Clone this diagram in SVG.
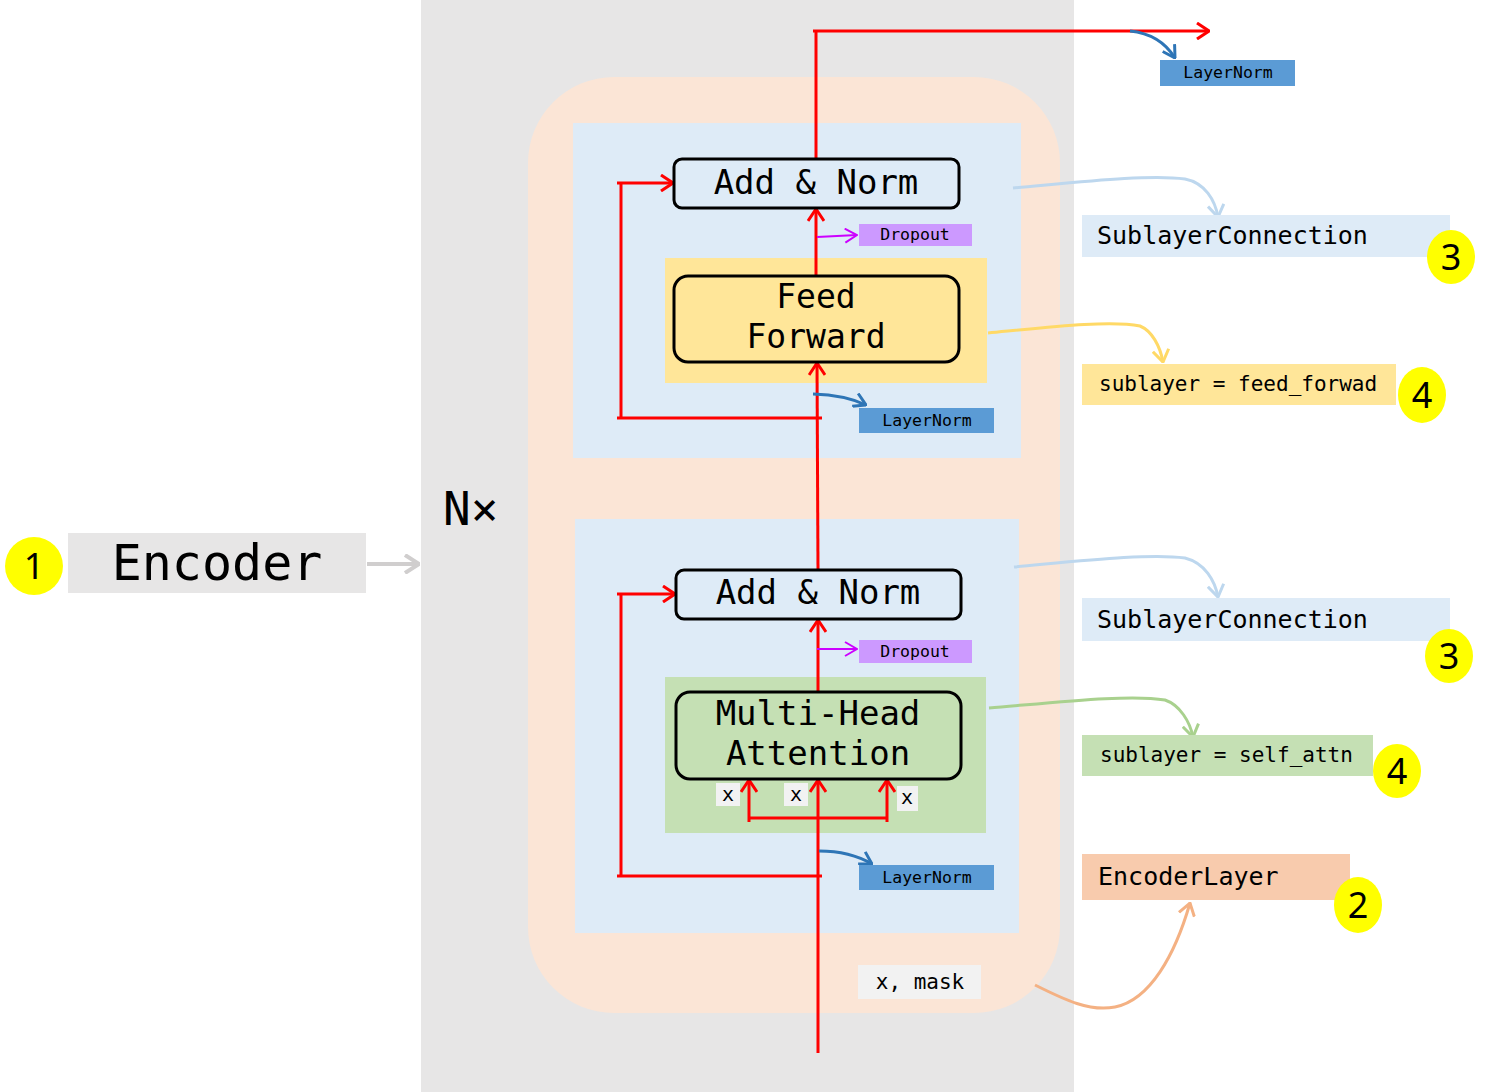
<svg xmlns="http://www.w3.org/2000/svg" width="1486" height="1092" viewBox="0 0 1486 1092">
<defs>
<style>
.mono{font-family:"DejaVu Sans Mono","Liberation Mono",monospace;fill:#000}
.num{font-family:"Noto Sans","DejaVu Sans",sans-serif;fill:#000;font-size:36px;text-anchor:middle}
.box{stroke:#000;stroke-width:3}
.red{stroke:#ff0000;stroke-width:3;fill:none}
.badge{fill:#ffff00}
</style>
<marker id="aRed" viewBox="0 0 14 18" refX="13" refY="9" markerWidth="14" markerHeight="18" markerUnits="userSpaceOnUse" orient="auto"><path d="M1,1 L13,9 L1,17" fill="none" stroke="#ff0000" stroke-width="3"/></marker>
<marker id="aMag" viewBox="0 0 14 16" refX="13" refY="8" markerWidth="14" markerHeight="16" markerUnits="userSpaceOnUse" orient="auto"><path d="M1,1 L13,8 L1,15" fill="none" stroke="#cc00ff" stroke-width="2"/></marker>
<marker id="aBlue" viewBox="0 0 14 16" refX="13" refY="8" markerWidth="14" markerHeight="16" markerUnits="userSpaceOnUse" orient="auto"><path d="M1,1 L13,8 L1,15" fill="none" stroke="#2e75b6" stroke-width="3"/></marker>
<marker id="aLBlue" viewBox="0 0 14 18" refX="13" refY="9" markerWidth="14" markerHeight="18" markerUnits="userSpaceOnUse" orient="auto"><path d="M1,1 L13,9 L1,17" fill="none" stroke="#bdd7ee" stroke-width="3"/></marker>
<marker id="aYel" viewBox="0 0 14 18" refX="13" refY="9" markerWidth="14" markerHeight="18" markerUnits="userSpaceOnUse" orient="auto"><path d="M1,1 L13,9 L1,17" fill="none" stroke="#ffd966" stroke-width="3"/></marker>
<marker id="aGrn" viewBox="0 0 14 18" refX="13" refY="9" markerWidth="14" markerHeight="18" markerUnits="userSpaceOnUse" orient="auto"><path d="M1,1 L13,9 L1,17" fill="none" stroke="#a9d18e" stroke-width="3"/></marker>
<marker id="aOr" viewBox="0 0 14 18" refX="13" refY="9" markerWidth="14" markerHeight="18" markerUnits="userSpaceOnUse" orient="auto"><path d="M1,1 L13,9 L1,17" fill="none" stroke="#f4b183" stroke-width="3"/></marker>
<marker id="aGray" viewBox="0 0 16 20" refX="15" refY="10" markerWidth="16" markerHeight="20" markerUnits="userSpaceOnUse" orient="auto"><path d="M1,1 L15,10 L1,19" fill="none" stroke="#d0cece" stroke-width="4"/></marker>
</defs>
<rect width="1486" height="1092" fill="#ffffff"/>

<g id="background">
<rect x="421" y="0" width="653" height="1092" fill="#e7e6e6"/>
<rect x="528" y="77" width="532" height="936" rx="86" fill="#fbe5d6"/>
<rect x="573" y="123" width="448" height="335" fill="#deebf7"/>
<rect x="575" y="519" width="444" height="414" fill="#deebf7"/>
<rect x="665" y="258" width="322" height="125" fill="#ffe699"/>
<rect x="665" y="677" width="321" height="156" fill="#c5e0b4"/>
<text class="mono" x="443" y="525" font-size="46">N×</text>
</g>

<g id="encoder">
<circle class="badge" cx="34" cy="566" r="29"/>
<text class="num" x="34" y="579">1</text>
<rect x="68" y="533" width="298" height="60" fill="#e7e6e6"/>
<text class="mono" x="217" y="580" font-size="50" text-anchor="middle">Encoder</text>
</g>

<g id="connectors">
<!-- top output -->
<path class="red" d="M816,159 L816,31"/>
<path class="red" d="M813,31 L1209,31" marker-end="url(#aRed)"/>
<path class="red" d="M816,276 L816,209" marker-end="url(#aRed)"/>
<path class="red" d="M818,570 L817,363" marker-end="url(#aRed)"/>
<path class="red" d="M617,418 L822,418"/>
<path class="red" d="M621,418 L621,183"/>
<path class="red" d="M617,183 L673,183" marker-end="url(#aRed)"/>
<!-- lower -->
<path class="red" d="M818,1053 L818,780" marker-end="url(#aRed)"/>
<path class="red" d="M818,692 L818,620" marker-end="url(#aRed)"/>
<path class="red" d="M617,876 L822,876"/>
<path class="red" d="M621,876 L621,594"/>
<path class="red" d="M617,594 L675,594" marker-end="url(#aRed)"/>
<path class="red" d="M749,818 L887,818"/>
<path class="red" d="M749,822 L749,780" marker-end="url(#aRed)"/>
<path class="red" d="M887,822 L887,780" marker-end="url(#aRed)"/>
<!-- dropout -->
<path d="M817,237 L857,235" fill="none" stroke="#cc00ff" stroke-width="2" marker-end="url(#aMag)"/>
<path d="M817,649 L857,649" fill="none" stroke="#cc00ff" stroke-width="2" marker-end="url(#aMag)"/>
<!-- layernorm -->
<path d="M1130,31 Q1160,34 1175,58" fill="none" stroke="#2e75b6" stroke-width="3" marker-end="url(#aBlue)"/>
<path d="M813,394 Q845,395 866,405" fill="none" stroke="#2e75b6" stroke-width="3" marker-end="url(#aBlue)"/>
<path d="M819,851 Q850,851 872,864" fill="none" stroke="#2e75b6" stroke-width="3" marker-end="url(#aBlue)"/>
<!-- annotation curves -->
<path d="M1013,188 C1080,182 1150,174 1185,179 C1205,183 1215,200 1218,217" fill="none" stroke="#bdd7ee" stroke-width="3" marker-end="url(#aLBlue)"/>
<path d="M988,333 C1050,327 1110,320 1140,326 C1152,331 1160,346 1163,362" fill="none" stroke="#ffd966" stroke-width="3" marker-end="url(#aYel)"/>
<path d="M1014,567 C1080,561 1150,553 1185,558 C1205,563 1215,581 1218,597" fill="none" stroke="#bdd7ee" stroke-width="3" marker-end="url(#aLBlue)"/>
<path d="M989,708 C1060,702 1130,694 1165,700 C1180,705 1190,722 1193,737" fill="none" stroke="#a9d18e" stroke-width="3" marker-end="url(#aGrn)"/>
<path d="M1035,985 C1065,1000 1090,1012 1115,1007 C1150,1000 1175,955 1190,903" fill="none" stroke="#f4b183" stroke-width="3" marker-end="url(#aOr)"/>
<path d="M367,564 L419,564" fill="none" stroke="#d0cece" stroke-width="4" marker-end="url(#aGray)"/>
</g>

<g id="addnorm-top">
<rect class="box" x="674" y="159" width="285" height="49" rx="8" fill="#deebf7"/>
<text class="mono" x="816" y="194" font-size="34" text-anchor="middle">Add &amp; Norm</text>
</g>
<g id="feedforward">
<rect class="box" x="674" y="276" width="285" height="86" rx="14" fill="#ffe699"/>
<text class="mono" x="816" y="308" font-size="33" text-anchor="middle">Feed</text>
<text class="mono" x="816" y="348" font-size="33" text-anchor="middle">Forward</text>
</g>
<g id="addnorm-bottom">
<rect class="box" x="676" y="570" width="285" height="49" rx="8" fill="#deebf7"/>
<text class="mono" x="818" y="604" font-size="34" text-anchor="middle">Add &amp; Norm</text>
</g>
<g id="mha">
<rect class="box" x="676" y="692" width="285" height="87" rx="14" fill="#c5e0b4"/>
<text class="mono" x="818" y="725" font-size="34" text-anchor="middle">Multi-Head</text>
<text class="mono" x="818" y="765" font-size="34" text-anchor="middle">Attention</text>
</g>
<g id="x-labels">
<rect x="716" y="783" width="24" height="23" fill="#f2f2f2"/>
<text class="mono" x="728" y="801" font-size="20" text-anchor="middle">x</text>
<rect x="784" y="783" width="24" height="23" fill="#f2f2f2"/>
<text class="mono" x="796" y="801" font-size="20" text-anchor="middle">x</text>
<rect x="897" y="786" width="21" height="25" fill="#f2f2f2"/>
<text class="mono" x="907" y="804" font-size="20" text-anchor="middle">x</text>
</g>
<g id="dropout-top">
<rect x="859" y="224" width="113" height="22" fill="#cc99ff"/>
<text class="mono" x="915" y="240" font-size="16.5" text-anchor="middle">Dropout</text>
</g>
<g id="dropout-bottom">
<rect x="859" y="640" width="113" height="23" fill="#cc99ff"/>
<text class="mono" x="915" y="657" font-size="16.5" text-anchor="middle">Dropout</text>
</g>
<g id="layernorm-final">
<rect x="1160" y="60" width="135" height="26" fill="#5b9bd5"/>
<text class="mono" x="1228" y="78" font-size="16.5" text-anchor="middle">LayerNorm</text>
</g>
<g id="layernorm-top">
<rect x="859" y="408" width="135" height="25" fill="#5b9bd5"/>
<text class="mono" x="927" y="426" font-size="16.5" text-anchor="middle">LayerNorm</text>
</g>
<g id="layernorm-bottom">
<rect x="859" y="865" width="135" height="25" fill="#5b9bd5"/>
<text class="mono" x="927" y="883" font-size="16.5" text-anchor="middle">LayerNorm</text>
</g>
<g id="xmask">
<rect x="858" y="965" width="123" height="34" fill="#f2f2f2"/>
<text class="mono" x="920" y="989" font-size="21" text-anchor="middle">x, mask</text>
</g>

<g id="sublayer-top">
<rect x="1082" y="215" width="368" height="42" fill="#deebf7"/>
<text class="mono" x="1097" y="244" font-size="25">SublayerConnection</text>
<ellipse class="badge" cx="1451" cy="257" rx="24" ry="27"/>
<text class="num" x="1451" y="270">3</text>
</g>
<g id="feedforward-label">
<rect x="1082" y="364" width="314" height="41" fill="#ffe699"/>
<text class="mono" x="1099" y="391" font-size="21">sublayer = feed_forwad</text>
<ellipse class="badge" cx="1422" cy="395" rx="24" ry="28"/>
<text class="num" x="1422" y="408">4</text>
</g>
<g id="sublayer-bottom">
<rect x="1082" y="598" width="368" height="43" fill="#deebf7"/>
<text class="mono" x="1097" y="628" font-size="25">SublayerConnection</text>
<ellipse class="badge" cx="1449" cy="656" rx="24" ry="27"/>
<text class="num" x="1449" y="669">3</text>
</g>
<g id="selfattn-label">
<rect x="1082" y="735" width="291" height="41" fill="#c5e0b4"/>
<text class="mono" x="1100" y="762" font-size="21">sublayer = self_attn</text>
<ellipse class="badge" cx="1397" cy="771" rx="24" ry="27"/>
<text class="num" x="1397" y="784">4</text>
</g>
<g id="encoderlayer-label">
<rect x="1082" y="854" width="268" height="46" fill="#f8cbad"/>
<text class="mono" x="1098" y="885" font-size="25">EncoderLayer</text>
<ellipse class="badge" cx="1358" cy="905" rx="24" ry="28"/>
<text class="num" x="1358" y="918">2</text>
</g>
</svg>
